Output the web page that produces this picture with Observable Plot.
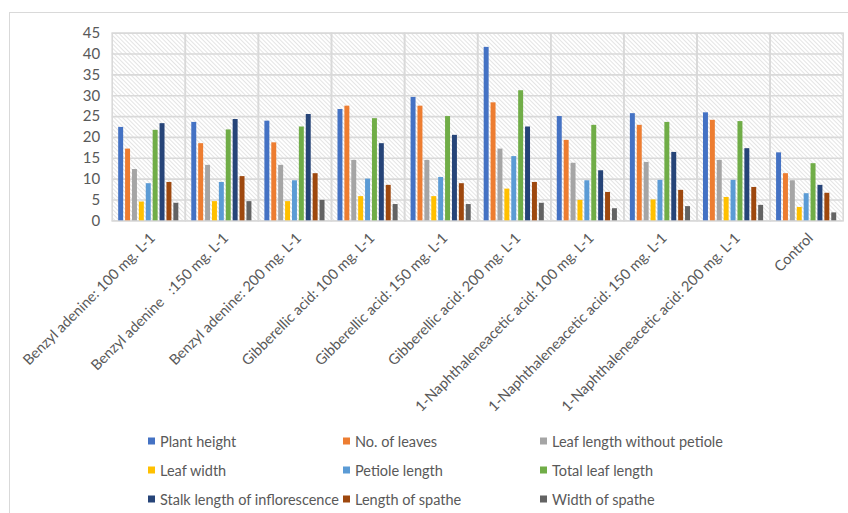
<!DOCTYPE html>
<html>
<head>
<meta charset="utf-8">
<script src="https://cdn.jsdelivr.net/npm/d3@7"></script>
<script src="https://cdn.jsdelivr.net/npm/@observablehq/plot@0.6"></script>
<style>
  html, body { margin: 0; padding: 0; background: #fff; }
  body { width: 848px; height: 513px; position: relative; overflow: hidden; font-family: Lato, "Open Sans", sans-serif; }
  #frame { position: absolute; left: 9px; top: 12px; width: 860px; height: 520px; border: 1px solid #d9d9d9; box-sizing: border-box; }
  #chart { position: absolute; left: 0; top: 0; }
  #legend { position: absolute; left: 0; top: 0; width: 848px; height: 513px; pointer-events: none; }
  .li { position: absolute; display: flex; align-items: center; font-size: 14.5px; color: #595959; white-space: nowrap; transform: translateY(-50%); }
  .sw { width: 7px; height: 7px; margin-right: 5px; }
</style>
</head>
<body>
<div id="frame"></div>
<div id="chart"></div>
<div id="legend"></div>
<script>
const treatments = [
  "Benzyl adenine: 100 mg. L-1",
  "Benzyl adenine   :150 mg. L-1",
  "Benzyl adenine: 200 mg. L-1",
  "Gibberellic acid: 100 mg. L-1",
  "Gibberellic acid: 150 mg. L-1",
  "Gibberellic acid: 200 mg. L-1",
  "1-Naphthaleneacetic acid: 100 mg. L-1",
  "1-Naphthaleneacetic acid: 150 mg. L-1",
  "1-Naphthaleneacetic acid: 200 mg. L-1",
  "Control"
];
const series = [
  "Plant height", "No. of leaves", "Leaf length without petiole",
  "Leaf width", "Petiole length", "Total leaf length",
  "Stalk length of inflorescence", "Length of spathe", "Width of spathe"
];
const colors = ["#4472C4", "#ED7D31", "#A5A5A5", "#FFC000", "#5B9BD5", "#70AD47", "#264478", "#9E480E", "#636363"];

const plantHeight   = [22.4, 23.6, 23.9, 26.7, 29.6, 41.6, 25.0, 25.7, 25.9, 16.3];
const noLeaves      = [17.2, 18.5, 18.7, 27.5, 27.5, 28.3, 19.3, 22.9, 24.1, 11.3];
const leafLength    = [12.3, 13.3, 13.3, 14.5, 14.5, 17.2, 13.8, 14.0, 14.5, 9.6];
const leafWidth     = [4.5, 4.6, 4.6, 5.8, 5.8, 7.6, 4.9, 5.0, 5.6, 3.2];
const petioleLength = [8.9, 9.2, 9.6, 10.0, 10.4, 15.4, 9.6, 9.7, 9.7, 6.5];
const totalLeaf     = [21.7, 21.8, 22.5, 24.5, 25.0, 31.2, 22.9, 23.6, 23.8, 13.7];
const stalkLength   = [23.3, 24.3, 25.5, 18.5, 20.5, 22.5, 12.0, 16.4, 17.3, 8.5];
const spatheLength  = [9.2, 10.6, 11.3, 8.5, 8.9, 9.2, 6.8, 7.3, 8.0, 6.6];
const spatheWidth   = [4.2, 4.6, 4.9, 3.9, 3.9, 4.2, 2.9, 3.4, 3.7, 1.9];
const yTicks = [0, 5, 10, 15, 20, 25, 30, 35, 40, 45];

const valueArrays = [plantHeight, noLeaves, leafLength, leafWidth, petioleLength, totalLeaf, stalkLength, spatheLength, spatheWidth];
const data = [];
treatments.forEach((t, i) => {
  series.forEach((s, j) => data.push({treatment: t, series: s, value: valueArrays[j][i]}));
});

const chart = Plot.plot({
  width: 848,
  height: 425,
  marginLeft: 111.7,
  marginRight: 5.3,
  marginTop: 32.7,
  marginBottom: 204.7,
  style: {fontFamily: "Lato, 'Open Sans', sans-serif", fontSize: "14px", color: "#595959", background: "transparent"},
  fx: {domain: treatments, padding: 0, round: false, label: null},
  x: {domain: series, paddingInner: 0.28, paddingOuter: 0.94, round: false, axis: null},
  y: {domain: [0, 45], label: null},
  color: {domain: series, range: colors},
  marks: [
    Plot.frame({fill: "url(#hatch)", stroke: "none"}),
    Plot.gridY(yTicks, {stroke: "#d9d9d9", strokeOpacity: 1, strokeWidth: 1.6}),
    Plot.frame({stroke: "#d9d9d9", strokeWidth: 1.6}),
    Plot.barY(data, {fx: "treatment", x: "series", y: "value", fill: "series"}),
    Plot.axisY(yTicks, {tickSize: 0, tickPadding: 12, fontSize: 15, label: null}),
    Plot.axisFx({anchor: "bottom", tickRotate: -45, tickSize: 0, tickPadding: 14, dx: 4, dy: 1, fontSize: 14.5, label: null})
  ]
});

// hatch pattern definition used by the background frame
const ns = "http://www.w3.org/2000/svg";
const defs = document.createElementNS(ns, "defs");
const pat = document.createElementNS(ns, "pattern");
pat.setAttribute("id", "hatch");
pat.setAttribute("patternUnits", "userSpaceOnUse");
pat.setAttribute("width", "3");
pat.setAttribute("height", "3");
pat.setAttribute("patternTransform", "rotate(-45)");
const bg = document.createElementNS(ns, "rect");
bg.setAttribute("width", "3"); bg.setAttribute("height", "3"); bg.setAttribute("fill", "#ffffff");
const ln = document.createElementNS(ns, "line");
ln.setAttribute("x1", "0"); ln.setAttribute("y1", "0"); ln.setAttribute("x2", "0"); ln.setAttribute("y2", "3");
ln.setAttribute("stroke", "#d2d2d2"); ln.setAttribute("stroke-width", "1.2");
pat.appendChild(bg); pat.appendChild(ln); defs.appendChild(pat);
chart.insertBefore(defs, chart.firstChild);
d3.select(chart).selectAll("text").attr("fill", "#595959");

document.getElementById("chart").appendChild(chart);

// legend
const legend = document.getElementById("legend");
const colX = [148, 343, 540];
const rowY = [441, 470, 499];
series.forEach((s, i) => {
  const d = document.createElement("div");
  d.className = "li";
  d.style.left = colX[i % 3] + "px";
  d.style.top = rowY[Math.floor(i / 3)] + "px";
  const sw = document.createElement("span");
  sw.className = "sw";
  sw.style.background = colors[i];
  const tx = document.createElement("span");
  tx.textContent = s;
  d.appendChild(sw); d.appendChild(tx);
  legend.appendChild(d);
});
</script>
</body>
</html>
